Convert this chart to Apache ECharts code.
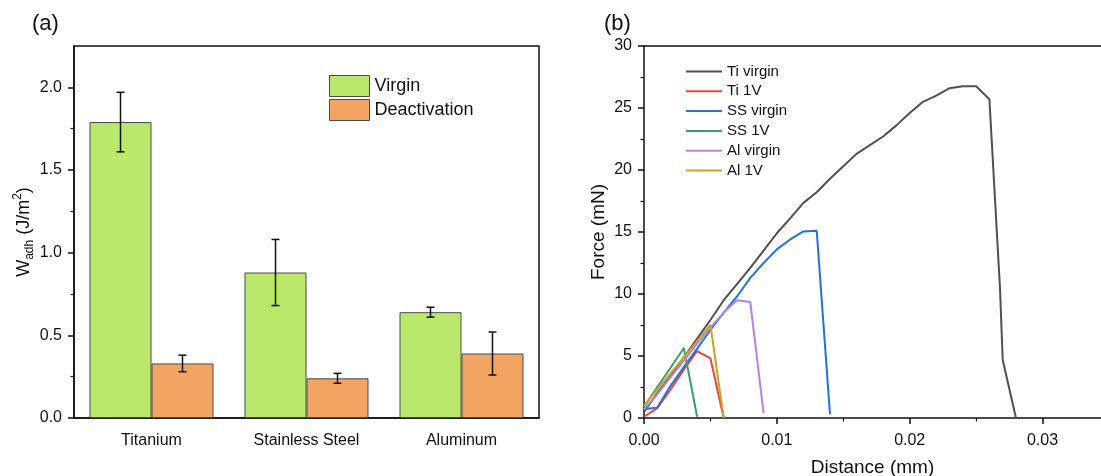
<!DOCTYPE html>
<html>
<head>
<meta charset="utf-8">
<script src="https://cdn.jsdelivr.net/npm/echarts@6/dist/echarts.min.js"></script>
<style>
html, body { margin: 0; padding: 0; background: #fff; }
#chart { width: 1101px; height: 476px; }
</style>
</head>
<body>
<div id="chart"></div>
<script>
// (a) adhesion work bars
const categories = ["Titanium", "Stainless Steel", "Aluminum"];
const virgin = [1.79, 0.88, 0.64];
const virginErr = [0.18, 0.2, 0.03];
const deact = [0.33, 0.24, 0.39];
const deactErr = [0.05, 0.03, 0.13];
const wTicks = [0, 0.5, 1.0, 1.5, 2.0];
const wMinor = [0.25, 0.75, 1.25, 1.75];

// (b) force - distance curves
const tiVirginX = [0, 0.001, 0.002, 0.003, 0.004, 0.005, 0.006, 0.007, 0.008, 0.009, 0.01, 0.011, 0.012, 0.013, 0.014, 0.015, 0.016, 0.017, 0.018, 0.019, 0.02, 0.021, 0.022, 0.023, 0.024, 0.025, 0.026, 0.0268, 0.027, 0.028];
const tiVirginY = [0.5, 2.0, 3.4, 4.9, 6.4, 7.9, 9.5, 10.8, 12.1, 13.5, 14.9, 16.1, 17.35, 18.2, 19.3, 20.3, 21.3, 22.0, 22.7, 23.6, 24.6, 25.5, 26.0, 26.6, 26.75, 26.75, 25.7, 10.4, 4.7, 0];
const ti1VX = [0, 0.001, 0.002, 0.003, 0.004, 0.005, 0.006];
const ti1VY = [0.1, 0.8, 2.3, 3.9, 5.4, 4.8, 0];
const ssVirginX = [0, 0.001, 0.002, 0.003, 0.004, 0.005, 0.006, 0.007, 0.008, 0.009, 0.01, 0.011, 0.012, 0.013, 0.014];
const ssVirginY = [0.7, 0.85, 2.6, 4.1, 5.6, 7.1, 8.5, 9.8, 11.3, 12.5, 13.6, 14.4, 15.05, 15.1, 0.3];
const ss1VX = [0, 0.001, 0.002, 0.003, 0.004];
const ss1VY = [0.9, 2.5, 4.05, 5.65, 0.1];
const alVirginX = [0, 0.001, 0.002, 0.003, 0.004, 0.005, 0.006, 0.007, 0.008, 0.009];
const alVirginY = [0.7, 1.9, 3.3, 4.6, 6.0, 7.3, 8.5, 9.5, 9.35, 0.4];
const al1VX = [0, 0.001, 0.002, 0.003, 0.004, 0.005, 0.006];
const al1VY = [1.0, 2.3, 3.6, 4.9, 6.2, 7.5, 0];
const distTicks = [0, 0.01, 0.02, 0.03];
const distMinor = [0.005, 0.015, 0.025];

const zip = (xs, ys) => xs.map((x, i) => [x, ys[i]]);
const FONT = "Arial, 'Liberation Sans', sans-serif";
const INK = "#111";

// error bars drawn next to each bar (side -1 = left bar, +1 = right bar)
function errorBar(side) {
	return function (params, api) {
		const idx = api.value(0);
		const lo = api.coord([idx, api.value(1)]);
		const hi = api.coord([idx, api.value(2)]);
		const band = api.size([1, 0])[0];
		const x = lo[0] + side * band * 0.2;
		const cap = 4;
		const st = { stroke: INK, lineWidth: 1.5 };
		return {
			type: "group",
			children: [
				{ type: "line", shape: { x1: x, y1: hi[1], x2: x, y2: lo[1] }, style: st },
				{ type: "line", shape: { x1: x - cap, y1: hi[1], x2: x + cap, y2: hi[1] }, style: st },
				{ type: "line", shape: { x1: x - cap, y1: lo[1], x2: x + cap, y2: lo[1] }, style: st },
			],
		};
	};
}

const lineSeries = (name, xs, ys, color) => ({
	name: name,
	type: "line",
	xAxisIndex: 2,
	yAxisIndex: 2,
	data: zip(xs, ys),
	symbol: "none",
	lineStyle: { color: color, width: 2 },
	itemStyle: { color: color },
});

let chart = echarts.init(document.getElementById("chart"));
let option = {
	animation: false,
	textStyle: { fontFamily: FONT },
	graphic: [
		{ type: "text", left: 32, top: 13, style: { text: "(a)", font: "22px " + FONT, fill: INK } },
		{ type: "text", left: 604, top: 13, style: { text: "(b)", font: "22px " + FONT, fill: INK } },
	],
	grid: [
		{ left: 74, right: 562, top: 46, bottom: 58, show: true, borderColor: INK, borderWidth: 1.5, outerBoundsMode: "none" },
		{ left: 644, right: 0, top: 46, bottom: 58, outerBoundsMode: "none" },
	],
	legend: [
		{
			data: ["Virgin", "Deactivation"],
			orient: "vertical",
			left: 324,
			top: 70,
			itemWidth: 40,
			itemHeight: 21,
			itemGap: 2,
			icon: "rect",
			itemStyle: { borderColor: "#4a4a4a", borderWidth: 1 },
			textStyle: { fontSize: 18, color: INK, fontFamily: FONT },
		},
		{
			data: ["Ti virgin", "Ti 1V", "SS virgin", "SS 1V", "Al virgin", "Al 1V"],
			orient: "vertical",
			left: 681,
			top: 59,
			itemWidth: 36,
			itemHeight: 2,
			itemGap: 4.8,
			icon: "rect",
			textStyle: { fontSize: 15, lineHeight: 14, color: INK, fontFamily: FONT },
		},
	],
	xAxis: [
		{
			gridIndex: 0,
			type: "category",
			data: categories,
			position: "bottom",
			axisLine: { lineStyle: { color: INK, width: 1.5 } },
			axisTick: { alignWithLabel: true, length: 6, lineStyle: { color: INK, width: 1.5 } },
			axisLabel: { fontSize: 16, color: INK, margin: 15 },
		},
		{
			// short ticks between the groups
			gridIndex: 0,
			type: "category",
			data: categories,
			position: "bottom",
			axisLine: { show: false },
			axisTick: { length: 3.5, lineStyle: { color: INK, width: 1.2 } },
			axisLabel: { show: false },
		},
		{
			gridIndex: 1,
			type: "value",
			min: 0,
			max: 0.0344,
			interval: 0.01,
			name: "Distance (mm)",
			nameLocation: "middle",
			nameGap: 40,
			nameTextStyle: { fontSize: 19, color: INK },
			splitLine: { show: false },
			axisLine: { onZero: false, lineStyle: { color: INK, width: 1.5 } },
			axisTick: { customValues: distTicks, length: 6, lineStyle: { color: INK, width: 1.5 } },
			axisLabel: { customValues: distTicks, fontSize: 16, color: INK, margin: 15, formatter: (v) => v.toFixed(2) },
		},
		{
			gridIndex: 1,
			type: "value",
			min: 0,
			max: 0.0344,
			position: "bottom",
			axisLine: { show: false },
			splitLine: { show: false },
			axisTick: { customValues: distMinor, length: 3.5, lineStyle: { color: INK, width: 1.2 } },
			axisLabel: { show: false },
		},
		{
			// top frame line of (b)
			gridIndex: 1,
			type: "value",
			min: 0,
			max: 0.0344,
			position: "top",
			axisLine: { onZero: false, lineStyle: { color: INK, width: 1.5 } },
			splitLine: { show: false },
			axisTick: { show: false },
			axisLabel: { show: false },
		},
	],
	yAxis: [
		{
			gridIndex: 0,
			type: "value",
			min: 0,
			max: 2.25,
			interval: 0.5,
			name: "{w|W}{s|adh}{w| (J/m}{p|2}{w|)}",
			nameLocation: "middle",
			nameGap: 38,
			nameTextStyle: {
				rich: {
					w: { fontSize: 18, lineHeight: 24, color: INK, fontFamily: FONT },
					s: { fontSize: 12, lineHeight: 12, verticalAlign: "bottom", color: INK, fontFamily: FONT },
					p: { fontSize: 12, lineHeight: 12, verticalAlign: "top", color: INK, fontFamily: FONT },
				},
			},
			splitLine: { show: false },
			axisLine: { show: true, lineStyle: { color: INK, width: 1.5 } },
			axisTick: { show: true, customValues: wTicks, length: 6, lineStyle: { color: INK, width: 1.5 } },
			axisLabel: { customValues: wTicks, fontSize: 16, color: INK, margin: 12, formatter: (v) => v.toFixed(1) },
		},
		{
			gridIndex: 0,
			type: "value",
			min: 0,
			max: 2.25,
			position: "left",
			splitLine: { show: false },
			axisLine: { show: false },
			axisTick: { show: true, customValues: wMinor, length: 3.5, lineStyle: { color: INK, width: 1.2 } },
			axisLabel: { show: false },
		},
		{
			gridIndex: 1,
			type: "value",
			min: 0,
			max: 30,
			interval: 5,
			name: "Force (mN)",
			nameLocation: "middle",
			nameGap: 36,
			nameTextStyle: { fontSize: 19, color: INK },
			splitLine: { show: false },
			axisLine: { show: true, onZero: false, lineStyle: { color: INK, width: 1.5 } },
			axisTick: { show: true, length: 6, lineStyle: { color: INK, width: 1.5 } },
			minorTick: { show: true, splitNumber: 2, length: 3.5, lineStyle: { color: INK, width: 1.2 } },
			axisLabel: { fontSize: 16, color: INK, margin: 12 },
		},
	],
	series: [
		{
			name: "Virgin",
			type: "bar",
			xAxisIndex: 0,
			yAxisIndex: 0,
			data: virgin,
			barGap: "0%",
			barCategoryGap: "20%",
			itemStyle: { color: "#b9e86b", borderColor: "#4a4a4a", borderWidth: 1 },
		},
		{
			name: "Deactivation",
			type: "bar",
			xAxisIndex: 0,
			yAxisIndex: 0,
			data: deact,
			barGap: "0%",
			barCategoryGap: "20%",
			itemStyle: { color: "#f2a463", borderColor: "#4a4a4a", borderWidth: 1 },
		},
		{
			type: "custom",
			xAxisIndex: 0,
			yAxisIndex: 0,
			renderItem: errorBar(-1),
			encode: { x: 0, y: [1, 2] },
			data: virgin.map((v, i) => [i, v - virginErr[i], v + virginErr[i]]),
			z: 5,
		},
		{
			type: "custom",
			xAxisIndex: 0,
			yAxisIndex: 0,
			renderItem: errorBar(1),
			encode: { x: 0, y: [1, 2] },
			data: deact.map((v, i) => [i, v - deactErr[i], v + deactErr[i]]),
			z: 5,
		},
		lineSeries("Ti virgin", tiVirginX, tiVirginY, "#505050"),
		lineSeries("Ti 1V", ti1VX, ti1VY, "#e8463f"),
		lineSeries("SS virgin", ssVirginX, ssVirginY, "#2471d8"),
		lineSeries("SS 1V", ss1VX, ss1VY, "#3a9e6a"),
		lineSeries("Al virgin", alVirginX, alVirginY, "#b783e0"),
		lineSeries("Al 1V", al1VX, al1VY, "#c9a227"),
	],
};
chart.setOption(option);
</script>
</body>
</html>
